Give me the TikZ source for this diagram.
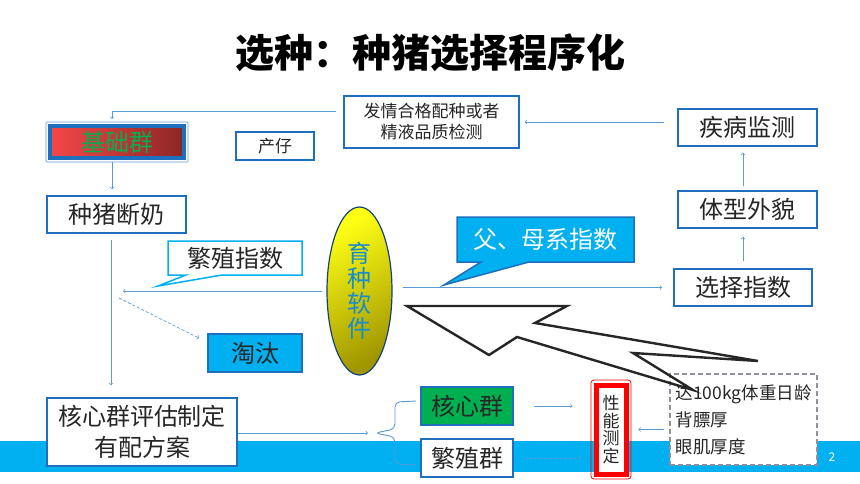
\documentclass[tikz,border=0pt]{standalone}
\usepackage{fontspec}
\setmainfont{Noto Sans CJK SC}
\usepackage{xcolor}
\usepackage{tikz}
\usetikzlibrary{shapes,arrows,positioning}
\definecolor{boxblue}{RGB}{30,112,190}
\definecolor{lineblue}{RGB}{91,155,213}
\definecolor{skycyan}{RGB}{0,176,240}
\definecolor{nucgreen}{RGB}{0,176,80}
\definecolor{dashgray}{RGB}{150,140,160}
\definecolor{redlight}{RGB}{245,72,72}
\definecolor{reddark}{RGB}{140,38,38}
\definecolor{softblue}{RGB}{20,140,205}
\definecolor{ellyellow}{RGB}{255,255,20}
\definecolor{ellolive}{RGB}{160,150,0}

\begin{document}
\begin{tikzpicture}[
			x = 1pt, y = -1pt,
			every node/.style = {inner sep = 0pt, align = center, text = black!85},
			box/.style = {draw = boxblue, line width = 1.6pt, fill = white, font = \fontsize{24}{24}\selectfont},
			conn/.style = {->, draw = lineblue, line width = 0.7pt},
			bracel/.style = {draw = lineblue, line width = 0.9pt, rounded corners = 5pt},
			bigarrow/.style = {draw = black!85, line width = 2.4pt, line join = miter}
		]

			\path[use as bounding box, fill = white] (0,0) rectangle (860,484);
			\fill[skycyan] (0,441) rectangle (860,472);

			\node[font = \fontsize{39}{39}\selectfont\bfseries, text = black] (title) at (430,53) {选种：种猪选择程序化};

			\node[box, minimum width = 175pt, minimum height = 52pt, font = \fontsize{17}{21}\selectfont] (fqpz) at (431.5,122) {发情合格配种或者\\精液品质检测};
			\node[box, minimum width = 139pt, minimum height = 37pt] (jbjc) at (747.5,127.5) {疾病监测};
			\node[box, minimum width = 139pt, minimum height = 37pt] (txwm) at (747.5,209.5) {体型外貌};
			\node[box, minimum width = 138pt, minimum height = 37pt] (xzzs) at (743,287.5) {选择指数};

			\node[box, line width = 4pt, left color = redlight, right color = reddark, text = nucgreen, minimum width = 134pt, minimum height = 32pt] (jcq) at (117,142) {基础群};
			\draw[boxblue!70, line width = 0.7pt, rounded corners = 1pt] ([shift = {(-2pt,2pt)}]jcq.north west) rectangle ([shift = {(2pt,-2pt)}]jcq.south east);
			\node[box, line width = 1.2pt, minimum width = 78pt, minimum height = 28pt, font = \fontsize{17}{17}\selectfont] (cz) at (275,146) {产仔};
			\node[box, minimum width = 139pt, minimum height = 37pt] (zzdn) at (116.5,214.5) {种猪断奶};

			\node[rectangle callout, draw = skycyan, line width = 1.5pt, fill = white, minimum width = 134pt, minimum height = 34pt, callout absolute pointer = {(158,286)}, callout pointer width = 36pt, font = \fontsize{24}{24}\selectfont] (fzzs) at (235,258) {繁殖指数};
			\node[rectangle callout, draw = boxblue, line width = 1.5pt, fill = skycyan, text = white, minimum width = 177pt, minimum height = 45pt, callout absolute pointer = {(444,285)}, callout pointer width = 48pt, font = \fontsize{24}{24}\selectfont] (fmxzs) at (545.5,239.5) {父、母系指数};

			\node[ellipse, draw = boxblue!60!black, line width = 1.2pt, top color = ellyellow, bottom color = ellolive, shading angle = 30, minimum width = 65pt, minimum height = 168pt, text = softblue, font = \fontsize{24}{25}\selectfont] (yzrj) at (359.5,291) {育\\种\\软\\件};

			\node[box, fill = skycyan, minimum width = 94pt, minimum height = 38pt] (tt) at (255,353) {淘汰};
			\node[box, minimum width = 190pt, minimum height = 68pt, font = \fontsize{24}{31}\selectfont] (hxpg) at (142,432) {核心群评估制定\\有配方案};
			\node[box, fill = nucgreen, minimum width = 92pt, minimum height = 38pt] (hxq) at (467,406) {核心群};
			\node[box, minimum width = 92pt, minimum height = 38pt] (fzq) at (467,458) {繁殖群};

			\node[draw = red, line width = 0.8pt, rounded corners = 3pt, minimum width = 40pt, minimum height = 99pt] (xncdo) at (611,429.5) {};
			\node[draw = red, line width = 5pt, fill = white, minimum width = 30pt, minimum height = 89pt, font = \fontsize{17}{17.5}\selectfont] (xncd) at (611,429.5) {性\\能\\测\\定};

			\node[draw = dashgray, line width = 1.3pt, dash pattern = on 5pt off 3pt, fill = white, minimum width = 147pt, minimum height = 91pt, align = left, font = \fontsize{17.5}{27}\selectfont] (csbx) at (743.5,419.5) {达100kg体重日龄\\背膘厚\\眼肌厚度};

			\node[text = white, font = \fontsize{12}{12}\selectfont] (pgno) at (832,457) {2};

			\draw[conn, shorten <= 13pt, shorten >= 5pt] (jbjc.west |- fqpz.east) -- (fqpz.east);
			\draw[conn] ([xshift = -7pt, yshift = 11pt]fqpz.west) -| ([xshift = -5pt, yshift = 5pt]jcq.north);
			\draw[conn, shorten <= 2pt, shorten >= 6pt] ([xshift = -5pt]jcq.south) -- ([xshift = -5pt]jcq.south |- zzdn.north);
			\draw[conn, shorten <= 6pt, shorten >= 12pt] ([xshift = -5.5pt]zzdn.south) -- ([xshift = -5.5pt]zzdn.south |- hxpg.north);

			\coordinate (cut) at (119,298);
			\draw[conn, dash pattern = on 3pt off 2pt] (cut) -- ([shift = {(-8pt,-5pt)}]tt.north west);
			\draw[conn, shorten <= 4pt] (yzrj.west) -- ([xshift = 6.5pt]zzdn.south |- yzrj.west);
			\draw[conn, shorten <= 10pt, shorten >= 11pt] (yzrj.east |- xzzs.west) -- (xzzs.west);
			\draw[conn, shorten <= 7pt, shorten >= 8pt] (xzzs.north) -- (xzzs.north |- txwm.south);
			\draw[conn, shorten <= 4pt, shorten >= 6pt] (xzzs.north |- txwm.north) -- (xzzs.north |- jbjc.south);

			\draw[bracel] (416,401) -- (395,402) -- (395,429) -- (375,433) -- (395,437) -- (395,464) -- (416,465);
			\coordinate (bracetip) at (375,433);
			\draw[conn, shorten >= 7pt] (hxpg.east |- bracetip) -- (bracetip);
			\draw[conn, shorten <= 20pt, shorten >= 18pt] (hxq.east) -- (hxq.east -| xncdo.west);
			\draw[conn, dash pattern = on 3pt off 2pt, shorten <= 10pt, shorten >= 9pt] (fzq.east) -- (fzq.east -| xncdo.west);
			\draw[conn, shorten <= 5pt, shorten >= 7pt] (csbx.west |- xncdo.east) -- (xncdo.east);

			\draw[bigarrow] (407,306) -- (567,306) -- (535,323) -- (758,361) -- (633,353) -- (693,390) -- (517,337) -- (489,355) -- cycle;

		\end{tikzpicture}
\end{document}
